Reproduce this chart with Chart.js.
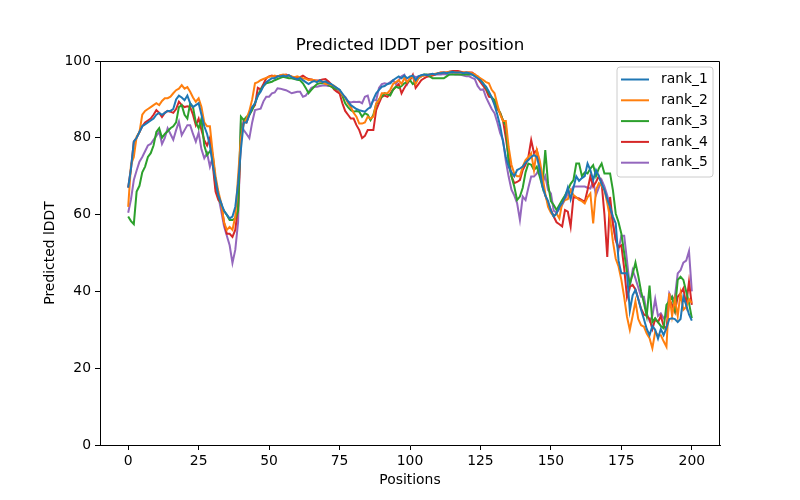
<!DOCTYPE html>
<html><head><meta charset="utf-8">
<script src="https://cdn.jsdelivr.net/npm/chart.js@4.4.0/dist/chart.umd.min.js"></script>
<style>html,body{margin:0;padding:0;background:#fff;}#wrap{width:800px;height:500px;}</style>
</head><body><div id="wrap"><canvas id="c" width="800" height="500"></canvas></div>
<script>
const positions = [];
for (let i = 0; i <= 200; i++) positions.push(i);

const rank_1 = [
67,72,79,80,81.5,83,83.5,84,84.5,85,
86,86.5,86,86.5,87,87,87.5,90,91,90.5,
89.8,91,89,88,88.5,89,86,83,81,78,
73,69,65,63,61,60,59,59.5,62,68,
77,84,84,86,88,89,91,92,93.5,94.5,
95,95.5,95.5,96,96,96.2,96,96.3,95.8,95.5,
95.2,95.6,95,94.5,94,94.5,94.8,94.5,95,94.5,
94.7,94.2,94,93.5,93,92.5,91.5,90.5,89.5,88.5,
88,87.5,87.2,87,86.8,87.5,88,90,91.6,92.5,
93.3,93.5,94,94.2,95,95.5,96,95.5,96.2,95.5,
96,96.2,95,96,96.3,96.5,96.3,96.5,96.7,96.5,
96.8,96.8,97,96.8,97,97.2,97,97,97,96.8,
97,96.8,96.5,96,95.5,95,94,93.3,92,90.5,
88.5,86,83,79,75,72.5,71,70,71.6,72,
72.5,73.5,74.2,75,75.5,75,72,67.3,65,63.5,
61,59.5,60.3,62,63,64.5,67,64,67,70,
68.8,69.5,70,73.3,71.6,69,71.6,70,68,66.4,
64,62,59.5,57.7,48,44.7,44.7,44.7,35,39,
40.4,38,35.2,32.8,30.2,28.6,31,30,27.7,30.2,
28.6,30.5,32.8,33,32.8,32,32.8,38.6,36.5,34,
32.4];

const rank_2 = [
62,73,75,80.3,81.5,86,87,87.5,88,88.5,
89,88.5,89.6,90.3,90.3,90.7,91.6,92.4,92.8,93.7,
92.8,93.2,92,90.5,89.4,90.3,88,84,83,83,
76,70,66,63,58,56,56.8,56,59.5,70,
80,83.5,85,87,90,94.2,94.5,95,95.3,95.6,
95.9,96,96.2,95.9,96.3,96.5,96.3,96.2,96,95.8,
96,95.7,95.5,95.4,95,95.2,95,94.8,94.7,94.5,
94,94,93.8,93.6,93,92.2,91.2,90.5,89,88,
86.5,85.5,83.7,83.7,84,85.5,85,85.5,89,89.8,
91.6,91.6,91.6,92.5,94,94.5,95,94,95.5,94.5,
95.5,96,94,95.5,96,96.2,96.3,96.5,96.5,96.7,
96.8,97,97,97,97.2,97.2,97,97,97,97,
97,97,96.8,96.5,96,95.5,95,94.5,94.2,92.5,
91.6,88.7,86,84.4,84.4,77.6,73,70.7,70,70,
72.5,74.2,75,76,71.6,76.8,74.2,70,65.5,62,
60.5,59.5,60.3,59,63,63.8,64,66.4,65.1,64.5,
63.8,63.5,62.9,64.5,65.5,57.7,66.4,68.2,67.5,66.4,
63,59,53,48.5,46.5,43,38.5,33.4,30,33.6,
37.4,32.8,31.2,30.8,29,27.8,25.2,29.5,28.6,28.6,
27,25.6,39.5,33.6,38,33.6,39.5,35.2,36,38,
37];

const rank_3 = [
59.5,58.3,57.5,66,67.5,71,72.5,75,76,78,
81.5,82.5,80,81,81.7,82.5,83,84,88,88.5,
86,85,89,88,84,82.5,85,78,75.5,76.5,
75.5,69,65,62.5,61,59.9,58.6,58.6,59,61,
85.5,84.6,85.5,86,87.2,89,91,92.5,93.5,94.2,
94.4,94.6,95,95.3,95.6,95.9,95.7,95.5,95.5,95.3,
95.1,95,94.2,93,91.6,92.5,93.3,94,94.2,94.2,
94.2,93.8,93.3,92.9,92.7,92.5,91,89,88,87.2,
86.8,87,86.8,85.5,86.4,86,84.6,86,88.7,90,
90.7,91.6,91.3,91,92.5,93.3,93,93.5,94.2,94.5,
95,94,94.5,95.5,96,96.5,96.5,96,95.5,95.5,
95.5,95.5,95.5,96,96.5,96.5,96.5,96.5,96.5,96.5,
96.5,96.5,96.5,96.2,96,95,94.2,93,91.6,90.5,
89.8,88,86.4,84.5,83.3,73.3,70,67.3,63.8,64.7,
67,71,73.3,73,71.6,72.5,70,67.3,76.8,68,
63.5,62.5,61.2,62.5,63.8,65,66.4,68,69,73.3,
73.3,70,71,70.7,72,72.9,70,72,73.3,70.7,
70.7,70.7,66.4,60.3,58,55,50,45,42,44.5,
47.5,44,40,37,33.6,41.5,32,33,32,31,
30.4,36.5,37.5,38.6,35.2,43,43.8,43,40,37,
33];

const rank_4 = [
67,72,79,80,81.5,83,84,84.5,85,86,
87.2,86.5,85.4,86.5,87,86.8,86.5,87.5,89.4,88.5,
88,88.2,88,86,83.3,85,82,79.4,78,80,
73,66,63.8,63,58,55,55,54.2,56,62,
79.4,84.6,84,86,87.5,88.5,93,92.6,94,95.5,
96,96.2,95.9,96,96.2,96.3,96.5,96.2,95.9,95.7,
95.5,95.8,96.2,95.7,95.3,95.2,95,94.9,95,95.2,
95.3,94.7,94,92.6,92,91.6,89,87,86,85,
85,83.3,82,79.9,80.5,82,82,82,87.2,89,
90.7,91,90.7,91.5,92.6,93.3,94,91.6,93,94.2,
95,96.4,93,94,95,95.5,95.9,96,96.2,96.5,
96.8,97,97,97,97.2,97.4,97.4,97.4,97.2,97,
97,97,97,96.5,95.5,94.5,93.5,92.5,90.7,90.5,
89,87.5,86.5,84.5,80,75,70,68.2,68.5,69,
71.6,73,75,79.4,76,76.8,73,68,65,63,
61.2,59.5,58,57.5,56.9,61.2,60.8,56.9,64.6,64.4,
64.2,63.8,63.3,66.4,70,67.3,68.5,70,68.2,60,
49,64.6,57.7,53.4,51.5,52,46,38.5,41.2,41.7,
40.5,38,35.5,34,33.6,32.8,30.2,32.8,32,33.6,
31,30.2,38,36.5,34.7,38.6,39.5,40.8,36.5,42.5,
36.5];

const rank_5 = [
60.5,64,69,71.5,73.8,75,76.5,78,78.4,79.5,
80.5,81.6,78.4,80,82.5,81,79.5,82,84.2,80.7,
82,83.3,83.3,81,79,81.3,77,74.7,76,72.5,
75,67,64.7,61,57,54.5,52,47.4,50.8,58,
83.7,82,81,79.9,84,87.2,87.4,87.6,89.5,90.7,
90.7,91.6,91.8,92.9,92.8,92.6,92.4,92,91.6,91.8,
92,92,90.7,91,92,93,93.3,93.3,93.5,93.6,
93.7,93.5,93.5,92.9,92.5,91.5,91,90.7,89.5,89.2,
89.4,89.3,89.4,89,90.7,91,88.2,89.8,89.8,93,
94,94.2,94,94.5,95,94,95,96,96.4,94,
95.5,96.2,95.8,96,96.2,96.3,96.4,96.5,96.5,96.5,
96.5,96.5,96.6,96.5,96.5,96.6,96.5,96.5,96.4,96.2,
96,96,95.6,95.3,93.5,92.5,92.6,90.5,89,87.5,
86.4,84,81.2,79.4,74,69.9,66.5,65,63,58.6,
64.7,63.8,67,69.9,69.9,70.7,72.5,68.2,70,66.4,
65.5,61,60.5,61.5,62.5,64,65.5,66,67.3,67.3,
67.3,67.3,67.3,67,66.8,68.6,65.1,67,69,67.3,
65,62,57.7,53.4,50.8,54.5,54.5,48,41.2,45.5,
43.4,41,38.6,38.6,34.3,32.3,33.6,38,33.6,34.3,
33,33.5,39.5,38,38.6,44.7,45.5,47.5,48,50.5,
40];

const seriesNames = ['rank_1','rank_2','rank_3','rank_4','rank_5'];
const seriesValues = [rank_1, rank_2, rank_3, rank_4, rank_5];
const seriesColors = ['#1f77b4','#ff7f0e','#2ca02c','#d62728','#9467bd'];
const xTicks = [0,25,50,75,100,125,150,175,200];
const yTicks = [0,20,40,60,80,100];
const titleText = 'Predicted lDDT per position';
const xLabel = 'Positions';
const yLabel = 'Predicted lDDT';

const FONT = 'DejaVu Sans';

const datasets = seriesNames.map((name, i) => ({
  label: name,
  data: positions.map((p, j) => ({x: p, y: seriesValues[i][j]})),
  borderColor: seriesColors[i],
  backgroundColor: seriesColors[i],
  borderWidth: 2,
  pointRadius: 0,
  tension: 0,
  fill: false
}));

const framePlugin = {
  id: 'frame',
  afterDraw(chart) {
    const {ctx, chartArea: a} = chart;
    ctx.save();
    ctx.strokeStyle = '#000';
    ctx.lineWidth = 1;
    const L = Math.round(a.left) + 0.5, R = Math.round(a.right) - 0.5;
    const T = Math.round(a.top) + 0.5, B = Math.round(a.bottom) + 0.5;
    ctx.beginPath();
    ctx.moveTo(L, T); ctx.lineTo(R, T); ctx.lineTo(R, B);
    ctx.stroke();
    // titles
    ctx.fillStyle = '#000';
    ctx.textAlign = 'center';
    ctx.textBaseline = 'middle';
    ctx.font = '16.7px "' + FONT + '"';
    ctx.fillText(titleText, (a.left + a.right) / 2, 46);
    ctx.font = '13.9px "' + FONT + '"';
    ctx.fillText(xLabel, (a.left + a.right) / 2, 480);
    ctx.save();
    ctx.translate(50, (a.top + a.bottom) / 2);
    ctx.rotate(-Math.PI / 2);
    ctx.fillText(yLabel, 0, 0);
    ctx.restore();
    // legend
    const lx = 617, ly = 67, lw = 96, lh = 110, r = 3;
    ctx.beginPath();
    ctx.moveTo(lx + r, ly);
    ctx.lineTo(lx + lw - r, ly);
    ctx.quadraticCurveTo(lx + lw, ly, lx + lw, ly + r);
    ctx.lineTo(lx + lw, ly + lh - r);
    ctx.quadraticCurveTo(lx + lw, ly + lh, lx + lw - r, ly + lh);
    ctx.lineTo(lx + r, ly + lh);
    ctx.quadraticCurveTo(lx, ly + lh, lx, ly + lh - r);
    ctx.lineTo(lx, ly + r);
    ctx.quadraticCurveTo(lx, ly, lx + r, ly);
    ctx.closePath();
    ctx.fillStyle = 'rgba(255,255,255,0.8)';
    ctx.fill();
    ctx.strokeStyle = '#cccccc';
    ctx.lineWidth = 1;
    ctx.stroke();
    ctx.textAlign = 'left';
    ctx.font = '13.9px "' + FONT + '"';
    chart.data.datasets.forEach((ds, i) => {
      const y = 79.5 + i * 20.8;
      ctx.strokeStyle = ds.borderColor;
      ctx.lineWidth = 2;
      ctx.beginPath();
      ctx.moveTo(621, y);
      ctx.lineTo(649, y);
      ctx.stroke();
      ctx.fillStyle = '#000';
      ctx.fillText(ds.label, 661, y);
    });
    ctx.restore();
  }
};

const tickFont = {family: FONT, size: 13.9};

new Chart(document.getElementById('c'), {
  type: 'line',
  data: {datasets},
  options: {
    responsive: false,
    animation: false,
    devicePixelRatio: 1,
    layout: {padding: {left: 0, right: 80, top: 61, bottom: 0}},
    plugins: {legend: {display: false}, title: {display: false}, tooltip: {enabled: false}},
    scales: {
      x: {
        type: 'linear', min: -10, max: 210,
        afterBuildTicks: s => { s.ticks = xTicks.map(v => ({value: v})); },
        afterFit: s => { s.height = 55; },
        grid: {display: true, drawOnChartArea: false, drawTicks: true, tickLength: 5, color: '#000', lineWidth: 1},
        border: {display: true, color: '#000', width: 1},
        ticks: {color: '#000', font: tickFont, padding: 3, maxRotation: 0, autoSkip: false}
      },
      y: {
        type: 'linear', min: 0, max: 100,
        afterBuildTicks: s => { s.ticks = yTicks.map(v => ({value: v})); },
        afterFit: s => { s.width = 100; },
        grid: {display: true, drawOnChartArea: false, drawTicks: true, tickLength: 5, color: '#000', lineWidth: 1},
        border: {display: true, color: '#000', width: 1},
        ticks: {color: '#000', font: tickFont, padding: 4, autoSkip: false}
      }
    }
  },
  plugins: [framePlugin]
});
</script>
</body></html>
